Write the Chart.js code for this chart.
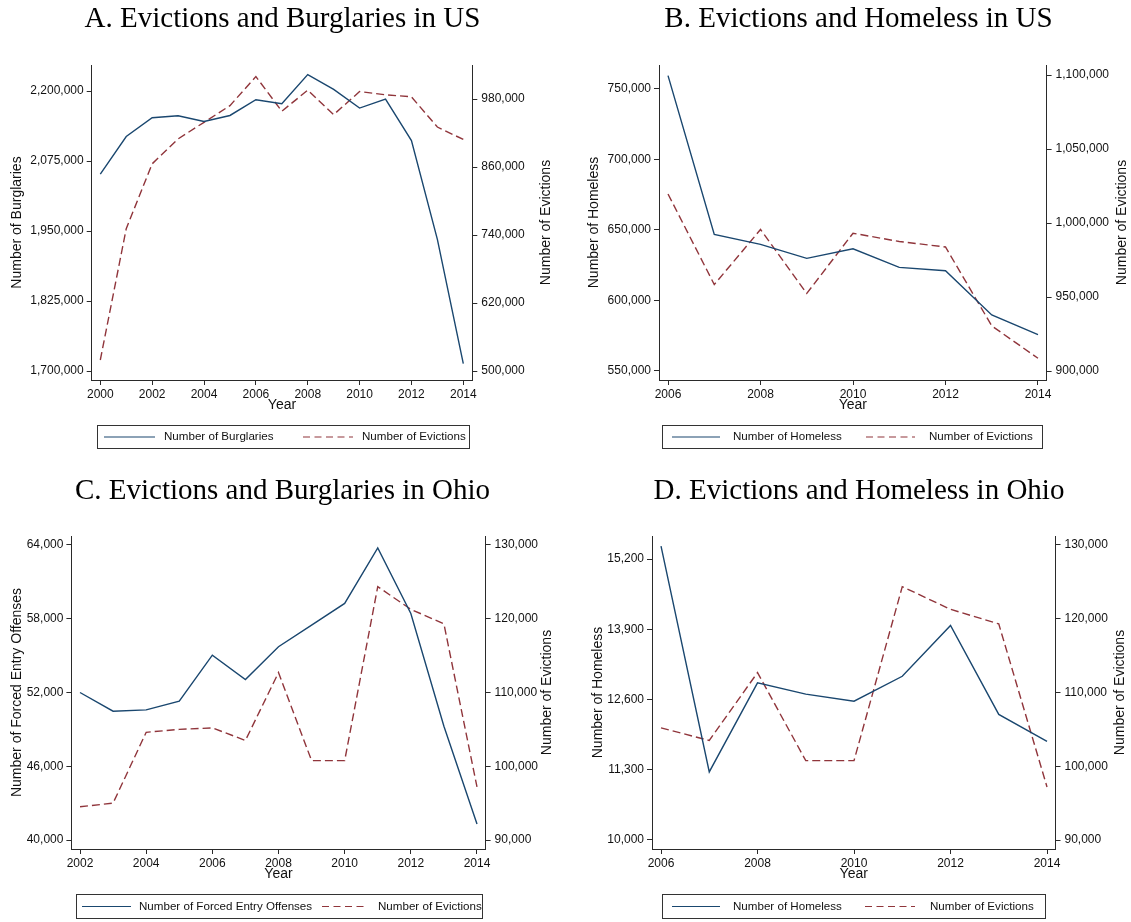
<!DOCTYPE html>
<html>
<head>
<meta charset="utf-8">
<script src="https://cdn.jsdelivr.net/npm/chart.js@4.4.1/dist/chart.umd.min.js"></script>
<style>
  html, body { margin: 0; padding: 0; background: #fff; }
  #page { position: relative; width: 1131px; height: 922px; background: #fff; overflow: hidden; }
  #page canvas { position: absolute; }
</style>
</head>
<body>
<div id="page">
  <canvas id="panelA" width="566" height="466" style="left:0;top:0"></canvas>
  <canvas id="panelB" width="565" height="466" style="left:566px;top:0"></canvas>
  <canvas id="panelC" width="566" height="451" style="left:0;top:471px"></canvas>
  <canvas id="panelD" width="565" height="451" style="left:566px;top:471px"></canvas>
</div>
<script>
// ---- United States ----
const yearsUS = [2000, 2001, 2002, 2003, 2004, 2005, 2006, 2007, 2008, 2009, 2010, 2011, 2012, 2013, 2014];
const burglariesUS = [2051700, 2118700, 2152200, 2155700, 2145600, 2156300, 2184400, 2177300, 2229300, 2203000, 2169500, 2185600, 2111500, 1935000, 1713200];
const evictionsUS = [519400, 751200, 865600, 909600, 938900, 968300, 1019600, 958400, 995600, 952400, 993100, 987500, 983800, 930500, 908600];

const yearsHomelessUS = [2006, 2007, 2008, 2009, 2010, 2011, 2012, 2013, 2014];
const homelessUS = [759500, 646900, 639800, 629900, 636700, 623500, 621100, 589800, 575800];

// ---- Ohio ----
const yearsOhio = [2002, 2003, 2004, 2005, 2006, 2007, 2008, 2009, 2010, 2011, 2012, 2013, 2014];
const forcedEntryOhio = [52000, 50480, 50590, 51290, 55040, 53060, 55720, 57480, 59250, 63760, 58430, 49260, 41300];
const evictionsOhio = [94500, 95000, 104600, 105000, 105200, 103500, 112700, 100760, 100760, 124350, 121280, 119300, 97190];

const yearsHomelessOhio = [2006, 2007, 2008, 2009, 2010, 2011, 2012, 2013, 2014];
const homelessOhio = [15440, 11260, 12908, 12699, 12569, 13030, 13971, 12324, 11826];

// ---- tick labels ----
const yearTicksA = [2000, 2002, 2004, 2006, 2008, 2010, 2012, 2014];
const yearTicksB = [2006, 2008, 2010, 2012, 2014];
const yearTicksC = [2002, 2004, 2006, 2008, 2010, 2012, 2014];
const yearTicksD = [2006, 2008, 2010, 2012, 2014];
const burglaryTicksUS = [1700000, 1825000, 1950000, 2075000, 2200000];
const evictionTicksA = [500000, 620000, 740000, 860000, 980000];
const homelessTicksUS = [550000, 600000, 650000, 700000, 750000];
const evictionTicksB = [900000, 950000, 1000000, 1050000, 1100000];
const forcedEntryTicksOhio = [40000, 46000, 52000, 58000, 64000];
const homelessTicksOhio = [10000, 11300, 12600, 13900, 15200];
const evictionTicksOhio = [90000, 100000, 110000, 120000, 130000];

// series slices sharing the homeless years
const evictionsUS0614 = evictionsUS.slice(yearsUS.indexOf(2006));
const evictionsOhio0614 = evictionsOhio.slice(yearsOhio.indexOf(2006));

const NAVY = '#1a476f';
const MAROON = '#90353b';
const AXIS = '#2a2a2a';
const TEXT = '#111';
const SANS = '"Liberation Sans", Arial, sans-serif';

const pairs = (xs, ys) => xs.map((x, i) => ({ x: x, y: ys[i] }));
const fmt = v => Number(v).toLocaleString('en-US');

// draws panel heading, the right-hand axis title and the boxed legend
const panelDecor = {
  id: 'panelDecor',
  afterDraw(chart, args, o) {
    const ctx = chart.ctx;
    const ca = chart.chartArea;
    ctx.save();
    // heading
    ctx.fillStyle = '#000';
    ctx.font = '29px "Liberation Serif", "Times New Roman", serif';
    ctx.textAlign = 'center';
    ctx.textBaseline = 'alphabetic';
    ctx.fillText(o.title, o.titleX, o.titleY);
    // right axis title, reading bottom-to-top
    ctx.save();
    ctx.translate(o.rightTitleX, (ca.top + ca.bottom) / 2);
    ctx.rotate(-Math.PI / 2);
    ctx.font = '14px ' + SANS;
    ctx.fillStyle = TEXT;
    ctx.textAlign = 'center';
    ctx.textBaseline = 'middle';
    ctx.fillText(o.rightTitle, 0, 0);
    ctx.restore();
    // legend box
    const lg = o.legend;
    ctx.fillStyle = '#fff';
    ctx.fillRect(lg.x, lg.y, lg.w, lg.h);
    ctx.strokeStyle = '#333';
    ctx.lineWidth = 1;
    ctx.strokeRect(lg.x + 0.5, lg.y + 0.5, lg.w, lg.h);
    const cy = lg.y + lg.h / 2 + 0.5;
    chart.data.datasets.forEach((ds, i) => {
      const it = lg.items[i];
      ctx.save();
      ctx.strokeStyle = ds.borderColor;
      ctx.lineWidth = 1.2;
      ctx.setLineDash(ds.borderDash ? [7, 4.5] : []);
      ctx.beginPath();
      ctx.moveTo(it.x0, cy);
      ctx.lineTo(it.x1, cy);
      ctx.stroke();
      ctx.restore();
      ctx.fillStyle = TEXT;
      ctx.font = '11.6px ' + SANS;
      ctx.textAlign = 'left';
      ctx.textBaseline = 'middle';
      ctx.fillText(ds.label, it.tx, cy);
    });
    ctx.restore();
  }
};

function fixedTicks(list) {
  return scale => { scale.ticks = list.map(v => ({ value: v })); };
}

function makePanel(id, p) {
  const tickFont = { family: SANS, size: 12 };
  const titleFont = { family: SANS, size: 14 };
  return new Chart(document.getElementById(id), {
    type: 'line',
    data: {
      datasets: [
        { label: p.leftLabel, data: p.leftData, yAxisID: 'yL', borderColor: NAVY, borderWidth: 1.4,
          pointRadius: 0, tension: 0, fill: false },
        { label: 'Number of Evictions', data: p.rightData, yAxisID: 'yR', borderColor: MAROON, borderWidth: 1.4,
          borderDash: [8, 4], pointRadius: 0, tension: 0, fill: false }
      ]
    },
    options: {
      responsive: false,
      animation: false,
      events: [],
      layout: { padding: { top: p.top, bottom: p.padBottom, left: 0, right: 0 } },
      plugins: {
        legend: { display: false },
        title: { display: false },
        tooltip: { enabled: false },
        panelDecor: p.decor
      },
      scales: {
        x: {
          type: 'linear', position: 'bottom', min: p.xMin, max: p.xMax,
          afterBuildTicks: fixedTicks(p.yearTicks),
          afterFit: s => { s.height = 34; },
          ticks: { callback: v => String(v), font: tickFont, color: TEXT, padding: 2, maxRotation: 0, autoSkip: false },
          grid: { drawOnChartArea: false, drawTicks: true, tickLength: 5, color: AXIS },
          border: { display: true, color: AXIS, width: 1 },
          title: { display: true, text: 'Year', font: titleFont, color: TEXT, padding: 0 }
        },
        yL: {
          type: 'linear', position: 'left', min: p.lMin, max: p.lMax,
          afterBuildTicks: fixedTicks(p.leftTicks),
          afterFit: s => { s.width = p.leftW; },
          ticks: { callback: fmt, font: tickFont, color: TEXT, padding: 3 },
          grid: { drawOnChartArea: false, drawTicks: true, tickLength: 5, color: AXIS },
          border: { display: true, color: AXIS, width: 1 },
          title: { display: true, text: p.leftLabel, font: titleFont, color: TEXT, padding: { top: p.leftTitlePad, bottom: 0 } }
        },
        yR: {
          type: 'linear', position: 'right', min: p.rMin, max: p.rMax,
          afterBuildTicks: fixedTicks(p.rightTicks),
          afterFit: s => { s.width = p.rightW; },
          ticks: { callback: fmt, font: tickFont, color: TEXT, padding: 4 },
          grid: { drawOnChartArea: false, drawTicks: true, tickLength: 5, color: AXIS },
          border: { display: true, color: AXIS, width: 1 },
          title: { display: false }
        }
      }
    },
    plugins: [panelDecor]
  });
}

makePanel('panelA', {
  leftLabel: 'Number of Burglaries',
  leftData: pairs(yearsUS, burglariesUS), rightData: pairs(yearsUS, evictionsUS),
  yearTicks: yearTicksA, leftTicks: burglaryTicksUS, rightTicks: evictionTicksA,
  xMin: 1999.668, xMax: 2014.347,
  lMin: 1683930, lMax: 2246430, rMin: 484118, rMax: 1040000,
  top: 65, padBottom: 52, leftW: 91.7, rightW: 93.7, leftTitlePad: 8.4,
  decor: {
    title: 'A. Evictions and Burglaries in US', titleX: 282.5, titleY: 27,
    rightTitle: 'Number of Evictions', rightTitleX: 546.5,
    legend: { x: 97, y: 425, w: 372, h: 23,
      items: [{ x0: 104, x1: 155, tx: 164 }, { x0: 303, x1: 353, tx: 362 }] }
  }
});

makePanel('panelB', {
  leftLabel: 'Number of Homeless',
  leftData: pairs(yearsHomelessUS, homelessUS), rightData: pairs(yearsHomelessUS, evictionsUS0614),
  yearTicks: yearTicksB, leftTicks: homelessTicksUS, rightTicks: evictionTicksB,
  xMin: 2005.805, xMax: 2014.186,
  lMin: 543617, lMax: 767020, rMin: 893919, rMax: 1106757,
  top: 65, padBottom: 52, leftW: 93, rightW: 84.4, leftTitlePad: 19.6,
  decor: {
    title: 'B. Evictions and Homeless in US', titleX: 292.5, titleY: 27,
    rightTitle: 'Number of Evictions', rightTitleX: 556.5,
    legend: { x: 96, y: 425, w: 380, h: 23,
      items: [{ x0: 106, x1: 154, tx: 167 }, { x0: 300, x1: 349, tx: 363 }] }
  }
});

makePanel('panelC', {
  leftLabel: 'Number of Forced Entry Offenses',
  leftData: pairs(yearsOhio, forcedEntryOhio), rightData: pairs(yearsOhio, evictionsOhio),
  yearTicks: yearTicksC, leftTicks: forcedEntryTicksOhio, rightTicks: evictionTicksOhio,
  xMin: 2001.74, xMax: 2014.26,
  lMin: 39268, lMax: 64732, rMin: 88780, rMax: 131220,
  top: 65, padBottom: 39, leftW: 71.4, rightW: 80.4, leftTitlePad: 8.4,
  decor: {
    title: 'C. Evictions and Burglaries in Ohio', titleX: 282.5, titleY: 28,
    rightTitle: 'Number of Evictions', rightTitleX: 547.5,
    legend: { x: 76, y: 423, w: 406, h: 24,
      items: [{ x0: 82, x1: 131, tx: 139 }, { x0: 322, x1: 367, tx: 378 }] }
  }
});

makePanel('panelD', {
  leftLabel: 'Number of Homeless',
  leftData: pairs(yearsHomelessOhio, homelessOhio), rightData: pairs(yearsHomelessOhio, evictionsOhio0614),
  yearTicks: yearTicksD, leftTicks: homelessTicksOhio, rightTicks: evictionTicksOhio,
  xMin: 2005.813, xMax: 2014.176,
  lMin: 9833, lMax: 15626, rMin: 88780, rMax: 131220,
  top: 65, padBottom: 39, leftW: 86, rightW: 75.5, leftTitlePad: 23.6,
  decor: {
    title: 'D. Evictions and Homeless in Ohio', titleX: 293, titleY: 28,
    rightTitle: 'Number of Evictions', rightTitleX: 554.5,
    legend: { x: 96, y: 423, w: 383, h: 24,
      items: [{ x0: 106, x1: 154, tx: 167 }, { x0: 299, x1: 349, tx: 364 }] }
  }
});
</script>
</body>
</html>
